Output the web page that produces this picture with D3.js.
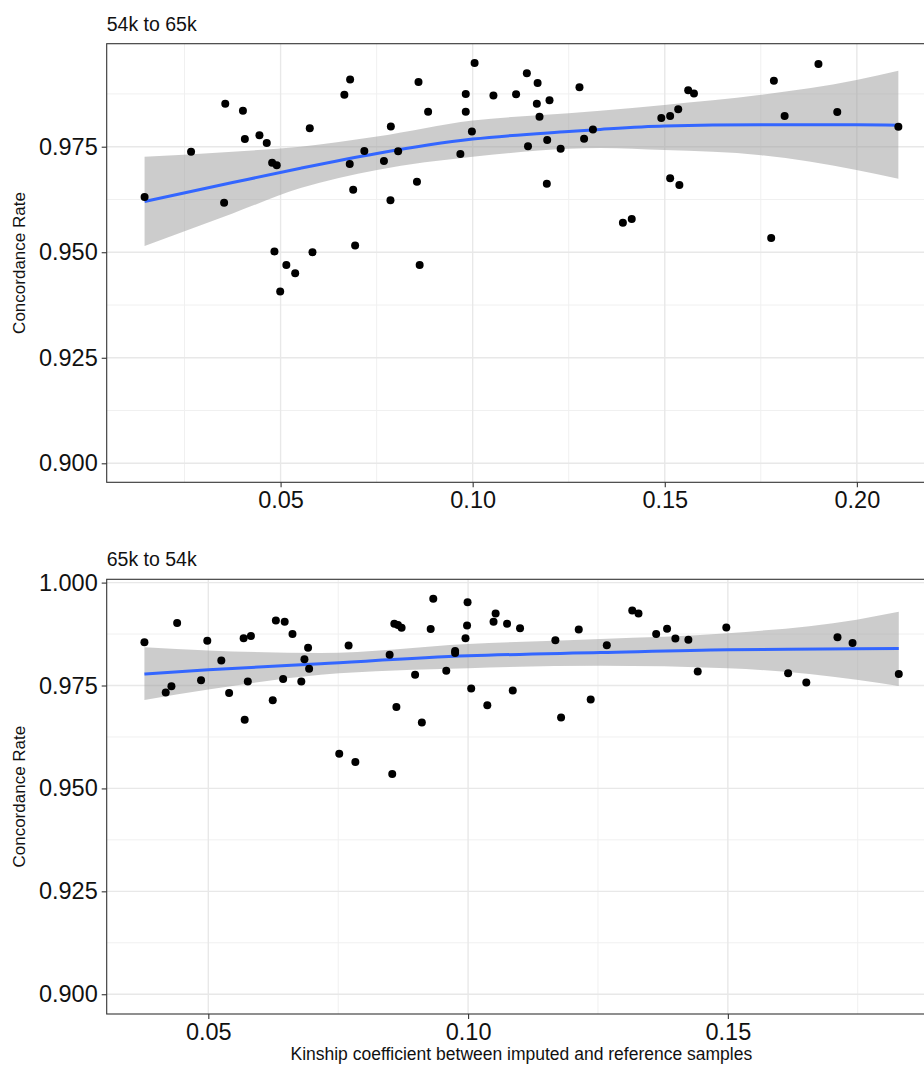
<!DOCTYPE html>
<html>
<head>
<meta charset="utf-8">
<script src="https://cdn.jsdelivr.net/npm/d3@7"></script>
<style>
  body { margin: 0; background: #fff; }
  svg { display: block; }
  text { font-family: "Liberation Sans", Arial, Helvetica, sans-serif; }
</style>
</head>
<body>
<div id="chart"></div>
<script>
// ---- data ----
var panelTitles = ["54k to 65k", "65k to 54k"];
var yAxisTitle = "Concordance Rate";
var xAxisTitle = "Kinship coefficient between imputed and reference samples";

// panel 1: 54k to 65k
var topKinship = [0.0146, 0.0267, 0.0356, 0.0402, 0.0353, 0.0407, 0.0445, 0.0464, 0.0478, 0.0490, 0.0576,
  0.0484, 0.0515, 0.0538, 0.0499, 0.0583,
  0.0681, 0.0666, 0.0718, 0.0680, 0.0689, 0.0694, 0.0787, 0.0769, 0.0806, 0.0786, 0.0859, 0.0884, 0.0855, 0.0862,
  0.0982, 0.0982, 0.1005, 0.0998, 0.0968, 0.1054, 0.1113, 0.1141, 0.1169, 0.1167, 0.1200, 0.1174, 0.1144, 0.1194,
  0.1229, 0.1193, 0.1278, 0.1290, 0.1313,
  0.1491, 0.1514, 0.1535, 0.1561, 0.1576, 0.1514, 0.1538, 0.1391, 0.1414, 0.1777, 0.1784, 0.1812, 0.1900, 0.1949, 0.2108];
var topConcordance = [0.9631, 0.9738, 0.9852, 0.9835, 0.9617, 0.9768, 0.9777, 0.9759, 0.9712, 0.9706, 0.9794,
  0.9502, 0.9470, 0.9450, 0.9407, 0.9500,
  0.9909, 0.9873, 0.9740, 0.9709, 0.9648, 0.9516, 0.9798, 0.9716, 0.9739, 0.9623, 0.9903, 0.9833, 0.9667, 0.9470,
  0.9875, 0.9833, 0.9948, 0.9786, 0.9733, 0.9871, 0.9874, 0.9924, 0.9901, 0.9852, 0.9860, 0.9821, 0.9751, 0.9766,
  0.9745, 0.9662, 0.9891, 0.9769, 0.9791,
  0.9818, 0.9823, 0.9839, 0.9884, 0.9876, 0.9675, 0.9659, 0.9570, 0.9579, 0.9534, 0.9906, 0.9823, 0.9946, 0.9832, 0.9797];
// loess fit and its confidence band
var topFitX  = [0.0146, 0.0375, 0.0552, 0.0751, 0.1000, 0.1250, 0.1332, 0.1499, 0.1751, 0.1999, 0.2108];
var topFitY  = [0.9620, 0.9665, 0.9699, 0.9734, 0.9768, 0.9786, 0.9791, 0.9799, 0.9802, 0.9802, 0.9801];
var topFitHi = [0.9726, 0.9738, 0.9750, 0.9774, 0.9812, 0.9829, 0.9835, 0.9849, 0.9873, 0.9908, 0.9930];
var topFitLo = [0.9515, 0.9592, 0.9652, 0.9695, 0.9726, 0.9745, 0.9747, 0.9742, 0.9730, 0.9695, 0.9674];

// panel 2: 65k to 54k
var botKinship = [0.0377, 0.0440, 0.0418, 0.0429, 0.0498, 0.0486, 0.0525, 0.0540, 0.0568, 0.0582, 0.0576, 0.0570,
  0.0630, 0.0647, 0.0662, 0.0624, 0.0644, 0.0679, 0.0692, 0.0685, 0.0694,
  0.0770, 0.0752, 0.0783, 0.0854, 0.0849, 0.0858, 0.0865, 0.0872, 0.0862, 0.0898, 0.0911, 0.0928, 0.0933, 0.0958,
  0.0975, 0.0975, 0.0995, 0.0998, 0.0999, 0.1006, 0.1037, 0.1049, 0.1053, 0.1075, 0.1086, 0.1100, 0.1168, 0.1179,
  0.1213, 0.1236, 0.1267,
  0.1316, 0.1328, 0.1362, 0.1383, 0.1399, 0.1424, 0.1442, 0.1497, 0.1616, 0.1651, 0.1711, 0.1740, 0.1829];
var botConcordance = [0.9855, 0.9902, 0.9733, 0.9748, 0.9859, 0.9763, 0.9811, 0.9732, 0.9865, 0.9870, 0.9760, 0.9667,
  0.9908, 0.9905, 0.9875, 0.9714, 0.9766, 0.9760, 0.9842, 0.9814, 0.9791,
  0.9847, 0.9584, 0.9564, 0.9535, 0.9825, 0.9900, 0.9897, 0.9890, 0.9698, 0.9776, 0.9660, 0.9887, 0.9961, 0.9786,
  0.9834, 0.9829, 0.9865, 0.9896, 0.9952, 0.9743, 0.9702, 0.9905, 0.9925, 0.9900, 0.9738, 0.9889, 0.9860, 0.9672,
  0.9886, 0.9716, 0.9848,
  0.9932, 0.9925, 0.9875, 0.9888, 0.9864, 0.9861, 0.9784, 0.9891, 0.9780, 0.9757, 0.9867, 0.9853, 0.9778];
var botFitX  = [0.0377, 0.0500, 0.0716, 0.1000, 0.1255, 0.1500, 0.1748, 0.1829];
var botFitY  = [0.9778, 0.9788, 0.9803, 0.9822, 0.9830, 0.9837, 0.9839, 0.9840];
var botFitHi = [0.9843, 0.9835, 0.9829, 0.9851, 0.9863, 0.9877, 0.9910, 0.9929];
var botFitLo = [0.9715, 0.9740, 0.9776, 0.9792, 0.9798, 0.9792, 0.9764, 0.9749];

// tick labels
var topXTicks = [0.05, 0.10, 0.15, 0.20];
var topYTicks = [0.900, 0.925, 0.950, 0.975];
var botXTicks = [0.05, 0.10, 0.15];
var botYTicks = [0.900, 0.925, 0.950, 0.975, 1.000];

// ---- drawing ----
var W = 924, H = 1065;

var svg = d3.select("#chart")
  .append("svg")
    .attr("width", W)
    .attr("height", H);

svg.append("rect").attr("width", W).attr("height", H).attr("fill", "#fff");

function drawPanel(p, idx) {
  var x = d3.scaleLinear().domain(p.xDomain).range([p.left, p.right]);
  var y = d3.scaleLinear().domain(p.yDomain).range([p.bottom, p.top]);

  var g = svg.append("g");

  var clipId = "clip" + idx;
  g.append("clipPath").attr("id", clipId)
    .append("rect")
      .attr("x", p.left).attr("y", p.top)
      .attr("width", p.right - p.left).attr("height", p.bottom - p.top);

  var plot = g.append("g").attr("clip-path", "url(#" + clipId + ")");

  // minor grid (half way between major ticks)
  var xMinor = [], yMinor = [];
  var xs = p.xTicks[1] - p.xTicks[0], ys = p.yTicks[1] - p.yTicks[0];
  for (var i = -1; i <= p.xTicks.length; i++) xMinor.push(p.xTicks[0] + (i + 0.5) * xs);
  for (var j = -1; j <= p.yTicks.length; j++) yMinor.push(p.yTicks[0] + (j + 0.5) * ys);

  plot.selectAll(".vminor").data(xMinor).enter().append("line")
    .attr("x1", function(d) { return x(d); }).attr("x2", function(d) { return x(d); })
    .attr("y1", p.top).attr("y2", p.bottom)
    .attr("stroke", "#f0f0f0").attr("stroke-width", 1);
  plot.selectAll(".hminor").data(yMinor).enter().append("line")
    .attr("y1", function(d) { return y(d); }).attr("y2", function(d) { return y(d); })
    .attr("x1", p.left).attr("x2", p.right)
    .attr("stroke", "#f0f0f0").attr("stroke-width", 1);

  // major grid
  plot.selectAll(".vmajor").data(p.xTicks).enter().append("line")
    .attr("x1", function(d) { return x(d); }).attr("x2", function(d) { return x(d); })
    .attr("y1", p.top).attr("y2", p.bottom)
    .attr("stroke", "#e8e8e8").attr("stroke-width", 1.4);
  plot.selectAll(".hmajor").data(p.yTicks).enter().append("line")
    .attr("y1", function(d) { return y(d); }).attr("y2", function(d) { return y(d); })
    .attr("x1", p.left).attr("x2", p.right)
    .attr("stroke", "#e8e8e8").attr("stroke-width", 1.4);

  // confidence band + smooth line
  var fit = p.fitX.map(function(d, k) {
    return {x: d, y: p.fitY[k], lo: p.fitLo[k], hi: p.fitHi[k]};
  });

  plot.append("path")
    .datum(fit)
    .attr("d", d3.area()
      .curve(d3.curveMonotoneX)
      .x(function(d) { return x(d.x); })
      .y0(function(d) { return y(d.lo); })
      .y1(function(d) { return y(d.hi); }))
    .attr("fill", "#999999")
    .attr("fill-opacity", 0.5);

  plot.append("path")
    .datum(fit)
    .attr("d", d3.line()
      .curve(d3.curveMonotoneX)
      .x(function(d) { return x(d.x); })
      .y(function(d) { return y(d.y); }))
    .attr("fill", "none")
    .attr("stroke", "#3366FF")
    .attr("stroke-width", 3);

  // points
  plot.selectAll(".pt").data(p.kin).enter().append("circle")
    .attr("cx", function(d) { return x(d); })
    .attr("cy", function(d, k) { return y(p.conc[k]); })
    .attr("r", 4)
    .attr("fill", "#000");

  // panel border
  g.append("rect")
    .attr("x", p.left).attr("y", p.top)
    .attr("width", p.right - p.left).attr("height", p.bottom - p.top)
    .attr("fill", "none").attr("stroke", "#333").attr("stroke-width", 1.1);

  // axes
  var xAxis = d3.axisBottom(x).tickValues(p.xTicks).tickSize(5).tickPadding(4)
    .tickSizeOuter(0).tickFormat(d3.format(".2f"));
  var yAxis = d3.axisLeft(y).tickValues(p.yTicks).tickSize(5).tickPadding(4)
    .tickSizeOuter(0).tickFormat(d3.format(".3f"));

  var gx = g.append("g").attr("transform", "translate(0," + p.bottom + ")").call(xAxis);
  var gy = g.append("g").attr("transform", "translate(" + p.left + ",0)").call(yAxis);
  [gx, gy].forEach(function(a) {
    a.select(".domain").remove();
    a.selectAll(".tick line").attr("stroke", "#333").attr("stroke-width", 1.1);
    a.selectAll(".tick text").attr("fill", "#111")
      .style("font-size", "23.5px")
      .style("font-family", "'Liberation Sans', Arial, sans-serif");
  });

  // panel title
  g.append("text")
    .attr("x", p.left)
    .attr("y", p.top - 13)
    .attr("fill", "#111")
    .style("font-size", "19.5px")
    .text(p.title);

  // y axis title
  g.append("text")
    .attr("transform", "translate(25," + ((p.top + p.bottom) / 2) + ") rotate(-90)")
    .attr("text-anchor", "middle")
    .attr("fill", "#111")
    .style("font-size", "17px")
    .text(yAxisTitle);
}

var panels = [
  {title: panelTitles[0], left: 106.7, right: 936, top: 43.7, bottom: 482.3,
   xDomain: [0.00474, 0.2206], yDomain: [0.8955, 0.9994],
   xTicks: topXTicks, yTicks: topYTicks, kin: topKinship, conc: topConcordance,
   fitX: topFitX, fitY: topFitY, fitLo: topFitLo, fitHi: topFitHi},
  {title: panelTitles[1], left: 106.7, right: 936.5, top: 579.3, bottom: 1014,
   xDomain: [0.03044, 0.19016], yDomain: [0.8952, 1.0008],
   xTicks: botXTicks, yTicks: botYTicks, kin: botKinship, conc: botConcordance,
   fitX: botFitX, fitY: botFitY, fitLo: botFitLo, fitHi: botFitHi}
];

panels.forEach(drawPanel);

// shared x axis title
svg.append("text")
  .attr("x", (106.7 + 936) / 2)
  .attr("y", 1060)
  .attr("text-anchor", "middle")
  .attr("fill", "#111")
  .style("font-size", "17.5px")
  .text(xAxisTitle);
</script>
</body>
</html>
